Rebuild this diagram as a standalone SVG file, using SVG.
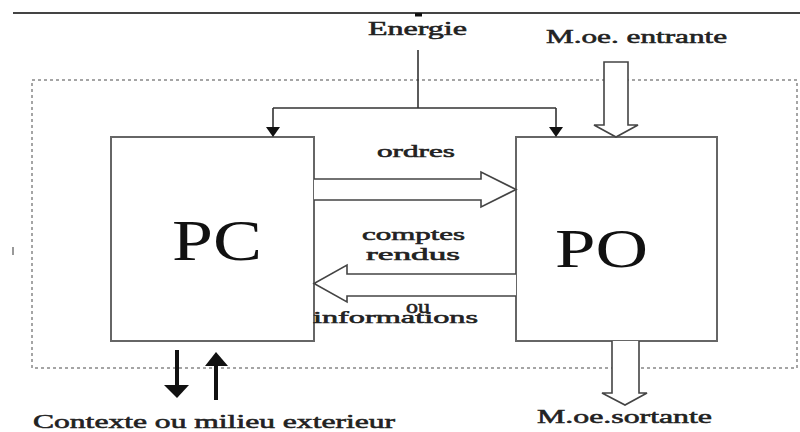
<svg xmlns="http://www.w3.org/2000/svg" width="800" height="432" viewBox="0 0 800 432">
  <style>
    .lbl { font-family: "Liberation Serif", "Times New Roman", serif; fill: #222; stroke: #222; stroke-width: 0.55; }
    .big { font-family: "Liberation Serif", "Times New Roman", serif; fill: #111; }
    .box { fill: #fff; stroke: #666; stroke-width: 2; }
    .wire { fill: none; stroke: #333; stroke-width: 1.6; }
    .hollow { fill: #fff; stroke: #444; stroke-width: 1.6; stroke-linejoin: miter; }
    .solid { fill: #111; stroke: none; }
  </style>

  <rect width="800" height="432" fill="#fff"/>

  <!-- top rule and small mark -->
  <line x1="13" y1="13" x2="800" y2="13" stroke="#444" stroke-width="2"/>
  <rect x="415" y="13" width="7" height="3.5" fill="#111"/>
  <line x1="13" y1="247" x2="13" y2="255" stroke="#777" stroke-width="1.5"/>

  <!-- system boundary -->
  <rect x="32" y="80" width="765" height="288" fill="none" stroke="#888" stroke-width="1.5" stroke-dasharray="3 3"/>

  <!-- nodes -->
  <g id="pc">
    <rect class="box" x="111" y="137" width="203" height="204"/>
    <text class="big" x="172" y="260" font-size="56" textLength="90" lengthAdjust="spacingAndGlyphs">PC</text>
  </g>
  <g id="po">
    <rect class="box" x="516" y="137" width="201" height="204"/>
    <text class="big" x="555" y="267" font-size="54" textLength="93" lengthAdjust="spacingAndGlyphs">PO</text>
  </g>

  <!-- connectors -->
  <g id="connectors">
    <!-- energy supply -->
    <path class="wire" d="M418,50 V108 M273,108 H556 M273,108 V129 M556,108 V129"/>
    <polygon class="solid" points="266,127 280,127 273,137"/>
    <polygon class="solid" points="549,127 563,127 556,137"/>

    <!-- ordres -->
    <path class="hollow" d="M314,179 H481 V172 L516,189.5 L481,207 V200 H314"/>
    <!-- comptes rendus -->
    <path class="hollow" d="M516,274 H347 V265 L314,283.5 L347,302 V296 H516"/>

    <!-- incoming / outgoing material -->
    <path class="hollow" d="M604,62 H628 V125 H638 L616,137 L594,125 H604 Z"/>
    <path class="hollow" d="M612,341 V393 H602 L625,405 L647,393 H639 V341"/>

    <!-- exchange with the environment -->
    <line x1="177" y1="350" x2="177" y2="387" stroke="#111" stroke-width="4"/>
    <polygon class="solid" points="164,385 189,385 177,398"/>
    <line x1="216" y1="400" x2="216" y2="363" stroke="#111" stroke-width="4"/>
    <polygon class="solid" points="205,366 228,366 216,352"/>
  </g>

  <!-- labels -->
  <g id="labels">
    <text class="lbl" x="368" y="35" font-size="19" textLength="99" lengthAdjust="spacingAndGlyphs">Energie</text>
    <text class="lbl" x="546" y="43" font-size="19" textLength="181" lengthAdjust="spacingAndGlyphs">M.oe. entrante</text>
    <text class="lbl" x="377" y="157" font-size="17" textLength="78" lengthAdjust="spacingAndGlyphs">ordres</text>
    <text class="lbl" x="362" y="240" font-size="17" textLength="103" lengthAdjust="spacingAndGlyphs">comptes</text>
    <text class="lbl" x="366" y="260" font-size="17" textLength="94" lengthAdjust="spacingAndGlyphs">rendus</text>
    <text class="lbl" x="406" y="313" font-size="18" textLength="24" lengthAdjust="spacingAndGlyphs">ou</text>
    <text class="lbl" x="313" y="323" font-size="17" textLength="165" lengthAdjust="spacingAndGlyphs">informations</text>
    <text class="lbl" x="537" y="423" font-size="19" textLength="175" lengthAdjust="spacingAndGlyphs">M.oe.sortante</text>
    <text class="lbl" x="33" y="428" font-size="19" textLength="362" lengthAdjust="spacingAndGlyphs">Contexte ou milieu exterieur</text>
  </g>
</svg>
